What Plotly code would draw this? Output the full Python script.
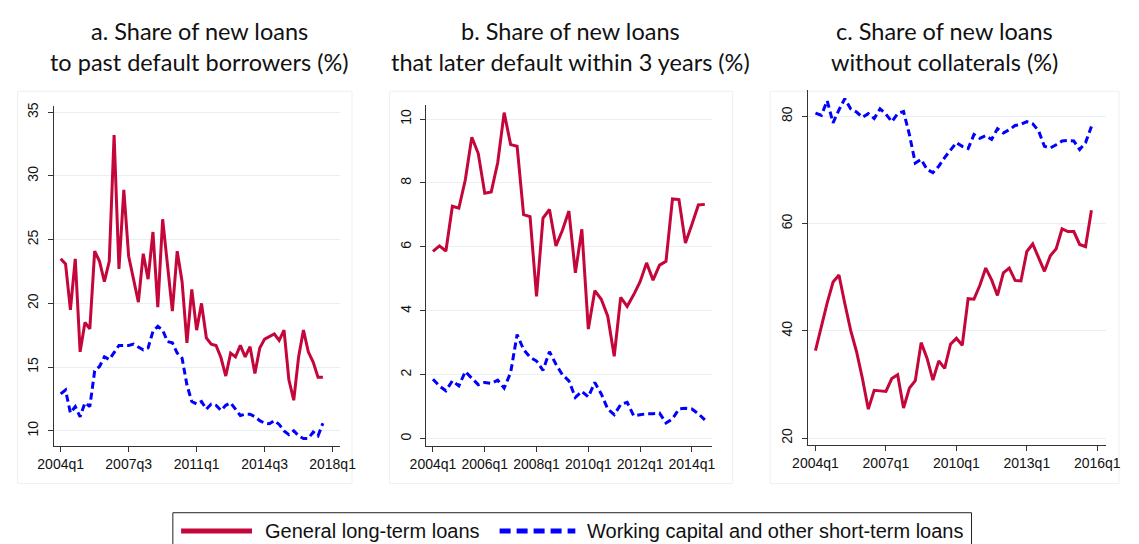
import plotly.graph_objects as go

W, H = 1139, 544

# ---------------- data ----------------
start_year = 2004  # first quarter 2004q1

# Panel a: share of new loans to past default borrowers (%)
a_long = [23.5, 23.1, 19.5, 23.5, 16.2, 18.5, 18.0, 24.1, 23.3, 21.7,
          23.3, 33.2, 22.7, 28.9, 23.7, 21.9, 20.1, 23.9, 21.9, 25.6,
          19.7, 26.6, 23.0, 19.4, 24.1, 21.7, 16.9, 21.1, 17.9, 20.0,
          17.3, 16.8, 16.7, 15.75, 14.3, 16.1, 15.8, 16.7, 15.8, 16.6,
          14.5, 16.5, 17.2, 17.4, 17.6, 17.1, 17.9, 14.0, 12.4, 15.8,
          17.9, 16.2, 15.4, 14.2, 14.2]
a_short = [12.9, 13.2, 11.4, 11.9, 11.1, 12.2, 11.9, 14.7, 15.05, 15.8,
           15.6, 16.2, 16.7, 16.7, 16.7, 16.8, 16.6, 16.35, 16.5, 17.8,
           18.2, 17.9, 17.0, 16.9, 16.1, 15.7, 13.6, 12.3, 12.1, 12.3,
           11.7, 12.1, 12.0, 11.6, 12.0, 12.2, 11.7, 11.2, 11.3, 11.3,
           11.1, 10.8, 10.6, 10.55, 10.8, 10.5, 10.0, 9.7, 10.0, 9.6,
           9.4, 9.4, 9.9, 9.6, 10.6]

# Panel b: share of new loans that later default within 3 years (%)
b_long = [5.86, 6.03, 5.87, 7.27, 7.21, 8.1, 9.43, 8.92, 7.68, 7.72,
          8.63, 10.2, 9.2, 9.15, 7.01, 6.95, 4.45, 6.9, 7.17, 6.03,
          6.52, 7.12, 5.19, 6.55, 3.43, 4.63, 4.36, 3.83, 2.58, 4.42,
          4.14, 4.5, 4.91, 5.5, 4.96, 5.43, 5.55, 7.5, 7.48, 6.12,
          6.7, 7.31, 7.33]
b_short = [1.86, 1.65, 1.5, 1.81, 1.65, 2.1, 1.89, 1.69, 1.76, 1.73,
           1.83, 1.58, 2.07, 3.26, 2.79, 2.55, 2.43, 2.14, 2.72, 2.33,
           2.0, 1.81, 1.29, 1.48, 1.31, 1.76, 1.4, 0.93, 0.75, 1.07,
           1.14, 0.72, 0.75, 0.78, 0.78, 0.8, 0.49, 0.62, 0.93, 0.95,
           0.93, 0.78, 0.59]

# Panel c: share of new loans without collaterals (%)
c_long = [36.3, 41.0, 45.2, 49.1, 50.4, 45.1, 40.1, 36.1, 31.1, 25.4,
          28.9, 28.8, 28.7, 31.1, 31.8, 25.6, 29.3, 30.7, 37.8, 34.9,
          30.8, 34.4, 33.0, 37.5, 38.6, 37.3, 46.0, 45.9, 48.5, 51.7,
          49.5, 46.6, 50.8, 51.7, 49.4, 49.3, 54.8, 56.2, 53.7, 51.1,
          54.0, 55.3, 59.0, 58.5, 58.5, 56.1, 55.7, 62.5]
c_short = [80.6, 80.2, 82.9, 78.8, 81.2, 83.3, 81.4, 80.8, 79.8, 80.5,
           79.6, 81.4, 80.4, 79.0, 80.5, 80.9, 76.6, 71.3, 72.0, 70.1,
           69.5, 70.7, 72.3, 73.8, 75.1, 74.4, 74.0, 76.6, 75.9, 76.4,
           75.7, 77.7, 76.9, 77.5, 78.3, 78.5, 79.0, 78.6, 77.3, 74.4,
           74.1, 74.7, 75.4, 75.5, 75.4, 73.8, 75.1, 78.1]

a_ticks = [2004, 2007.5, 2011, 2014.5, 2018]
a_ticktext = ["2004q1", "2007q3", "2011q1", "2014q3", "2018q1"]
b_ticks = [2004, 2006, 2008, 2010, 2012, 2014]
b_ticktext = ["2004q1", "2006q1", "2008q1", "2010q1", "2012q1", "2014q1"]
c_ticks = [2004, 2007, 2010, 2013, 2016]
c_ticktext = ["2004q1", "2007q1", "2010q1", "2013q1", "2016q1"]

a_yticks = [10, 15, 20, 25, 30, 35]
b_yticks = [0, 2, 4, 6, 8, 10]
c_yticks = [20, 40, 60, 80]

titles = [["a. Share of new loans", "to past default borrowers (%)"],
          ["b. Share of new loans", "that later default within 3 years (%)"],
          ["c. Share of new loans", "without collaterals (%)"]]
legend_labels = ["General long-term loans", "Working capital and other short-term loans"]

# ---------------- styling ----------------
RED = "#c4063a"
BLUE = "#0000ff"
GRID = "#e9f0f2"
AXIS = "#333333"
SANS = "Liberation Sans, Arial, sans-serif"
TICKFONT = dict(family=SANS, size=14, color="#111111")
TITLEFONT = dict(family="Lato", size=23.5, color="#111111")
LEGFONT = dict(family=SANS, size=20, color="#111111")


def qx(n):
    return [start_year + i / 4 for i in range(n)]


def pxx(x):
    return x / W


def pyy(y):
    return 1 - y / H


fig = go.Figure()

panels = [
    dict(long=a_long, short=a_short, ticks=a_ticks, ticktext=a_ticktext, yticks=a_yticks,
         xdom=(37.7, 333), ydom=(445, 103), xr=(2003.635, 2018.4), yr=(8.83, 35.47)),
    dict(long=b_long, short=b_short, ticks=b_ticks, ticktext=b_ticktext, yticks=b_yticks,
         xdom=(421.7, 715.7), ydom=(445, 101.7), xr=(2003.75, 2014.775), yr=(-0.22, 10.44)),
    dict(long=c_long, short=c_short, ticks=c_ticks, ticktext=c_ticktext, yticks=c_yticks,
         xdom=(814.3, 1121), ydom=(444.3, 86.7), xr=(2003.67, 2016.35), yr=(18.7, 84.9)),
]

title_centers = [187.5, 570, 955]
frames = [(0, 345), (383, 737), (775, 1135)]

layout_axes = {}
shapes = []
annotations = []

for i, p in enumerate(panels):
    n = i + 1
    xa = "x" if n == 1 else f"x{n}"
    ya = "y" if n == 1 else f"y{n}"
    fig.add_trace(go.Scatter(x=qx(len(p["long"])), y=p["long"], mode="lines",
                             line=dict(color=RED, width=3), xaxis=xa, yaxis=ya,
                             showlegend=False, name=legend_labels[0]))
    fig.add_trace(go.Scatter(x=qx(len(p["short"])), y=p["short"], mode="lines",
                             line=dict(color=BLUE, width=3, dash="7px,4px"), xaxis=xa, yaxis=ya,
                             showlegend=False, name=legend_labels[1]))
    xkey = "xaxis" if n == 1 else f"xaxis{n}"
    ykey = "yaxis" if n == 1 else f"yaxis{n}"
    layout_axes[xkey] = dict(domain=[pxx(p["xdom"][0]), pxx(p["xdom"][1])], range=list(p["xr"]),
                             anchor=ya, tickmode="array", tickvals=p["ticks"], ticktext=p["ticktext"],
                             showgrid=False, zeroline=False, showline=True, linecolor=AXIS, linewidth=1,
                             ticks="outside", ticklen=5, tickcolor=AXIS, tickfont=TICKFONT)
    layout_axes[ykey] = dict(domain=[pyy(p["ydom"][0]), pyy(p["ydom"][1])], range=list(p["yr"]),
                             anchor=xa, tickmode="array", tickvals=p["yticks"],
                             showgrid=True, gridcolor=GRID, gridwidth=1, zeroline=False,
                             showline=True, linecolor=AXIS, linewidth=1,
                             ticks="outside", ticklen=5, tickcolor=AXIS, tickfont=TICKFONT,
                             tickangle=-90, ticklabelstandoff=4)
    # faint panel frame
    shapes.append(dict(type="rect", xref="paper", yref="paper",
                       x0=pxx(frames[i][0] + 0.5), x1=pxx(frames[i][1]), y0=pyy(483), y1=pyy(88),
                       line=dict(color="#f0f0f0", width=1), layer="below"))
    # titles
    for txt, yc in zip(titles[i], [27, 58]):
        annotations.append(dict(text=txt, x=pxx(title_centers[i]), y=pyy(yc), xref="paper", yref="paper",
                                xanchor="center", yanchor="middle", showarrow=False, font=TITLEFONT))

# manual legend
shapes.append(dict(type="rect", xref="paper", yref="paper", x0=pxx(160.5), x1=pxx(983),
                   y0=pyy(548), y1=pyy(512.5), line=dict(color="#222222", width=1), fillcolor="white"))
shapes.append(dict(type="line", xref="paper", yref="paper", x0=pxx(169), x1=pxx(242),
                   y0=pyy(531), y1=pyy(531), line=dict(color=RED, width=5)))
shapes.append(dict(type="line", xref="paper", yref="paper", x0=pxx(497), x1=pxx(575),
                   y0=pyy(531), y1=pyy(531), line=dict(color=BLUE, width=5, dash="11px,6px")))
annotations.append(dict(text=legend_labels[0], x=pxx(253), y=pyy(531), xref="paper", yref="paper",
                        xanchor="left", yanchor="middle", showarrow=False, font=LEGFONT))
annotations.append(dict(text=legend_labels[1], x=pxx(585), y=pyy(531), xref="paper", yref="paper",
                        xanchor="left", yanchor="middle", showarrow=False, font=LEGFONT))

fig.update_layout(width=W, height=H, margin=dict(l=0, r=0, t=0, b=0),
                  paper_bgcolor="white", plot_bgcolor="white",
                  shapes=shapes, annotations=annotations, showlegend=False, **layout_axes)

fig.write_html("out.html")
